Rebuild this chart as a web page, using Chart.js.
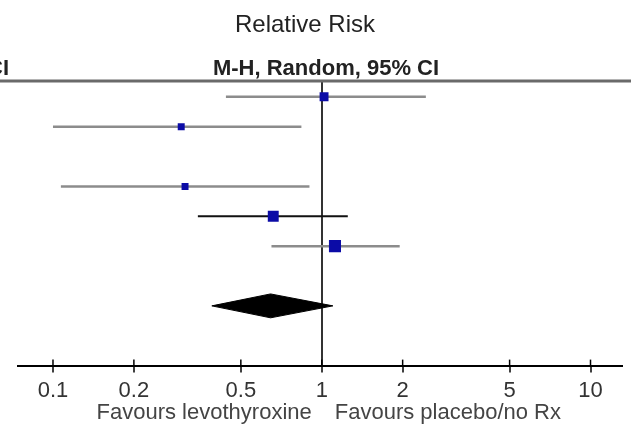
<!DOCTYPE html>
<html lang="en">
<head>
<meta charset="UTF-8">
<title>Relative Risk - forest plot</title>
<style>
  html, body { margin: 0; padding: 0; background: #fff; }
  #wrap { width: 631px; height: 424px; position: relative; }
</style>
<script src="https://cdn.jsdelivr.net/npm/chart.js"></script>
</head>
<body>
<div id="wrap"><canvas id="forest"></canvas></div>
<script>
// rows of the plot, top to bottom ('' = blank row); the study names are cropped off in the source
const rowLabels = ['Study 1', 'Study 2', '', 'Study 3', 'Study 4', 'Study 5', '', 'Total (95% CI)'];

// per-study relative risk with 95% CI, and weight (%)
const studyRR    = [1.02, 0.30, 0.31, 0.66, 1.12];
const studyLower = [0.44, 0.10, 0.107, 0.346, 0.65];
const studyUpper = [2.44, 0.84, 0.90, 1.25, 1.95];
const studyWeight = [18, 11, 11, 27, 33];

// pooled estimate: [RR, lower, upper]
const pooled = [0.645, 0.39, 1.10];

const xTicks = [0.1, 0.2, 0.5, 1, 2, 5, 10];

const FONT = '"Liberation Sans", Arial, sans-serif';

// row index on the y scale for each study / the total
const studyRows = rowLabels.map((l, i) => i).filter(i => rowLabels[i] && i !== rowLabels.length - 1);
const totalRow = rowLabels.length - 1;

// CI whiskers, one small line dataset each
const ciSets = studyRR.map((rr, i) => ({
    data: [{ x: studyLower[i], y: studyRows[i] }, { x: studyUpper[i], y: studyRows[i] }],
    borderColor: i === 3 ? '#111' : '#8c8c8c',
    borderWidth: i === 3 ? 2 : 2.5,
    pointRadius: 0,
    order: 3
}));

const boxSet = {
    data: studyRR.map((rr, i) => ({ x: rr, y: studyRows[i] })),
    showLine: false,
    pointStyle: 'rect',
    // box side ~ sqrt(weight); rect radius r gives a side of r*sqrt(2)
    pointRadius: studyWeight.map(w => Math.sqrt(w) * 2.1 / Math.SQRT2),
    backgroundColor: '#0b0ba6',
    borderWidth: 0,
    order: 0
};

const halfH = 0.4;
const diamondSet = {
    data: [
        { x: pooled[1], y: totalRow },
        { x: pooled[0], y: totalRow - halfH },
        { x: pooled[2], y: totalRow },
        { x: pooled[0], y: totalRow + halfH },
        { x: pooled[1], y: totalRow }
    ],
    fill: 'shape',
    backgroundColor: '#000',
    borderColor: '#000',
    borderWidth: 1,
    pointRadius: 0,
    order: 1
};

// header / footer texts and the little tick stubs above the axis
const decorPlugin = {
    id: 'decor',
    afterDraw(chart) {
        const ctx = chart.ctx;
        const area = chart.chartArea;
        const xs = chart.scales.x;
        const one = xs.getPixelForValue(1);
        ctx.save();

        // header rule
        ctx.strokeStyle = '#6a6a6a';
        ctx.lineWidth = 3;
        ctx.beginPath();
        ctx.moveTo(0, area.top);
        ctx.lineTo(chart.width, area.top);
        ctx.stroke();

        ctx.fillStyle = '#222';
        ctx.textBaseline = 'alphabetic';
        ctx.font = '24px ' + FONT;
        ctx.textAlign = 'center';
        ctx.fillText('Relative Risk', 305, 32);

        ctx.font = 'bold 22px ' + FONT;
        ctx.fillText('M-H, Random, 95% CI', 326, 75);
        ctx.textAlign = 'right';
        ctx.fillText('95% CI', 9, 75);

        // tick stubs above the axis line
        ctx.strokeStyle = '#000';
        ctx.lineWidth = 1.5;
        xTicks.forEach(v => {
            const px = xs.getPixelForValue(v);
            ctx.beginPath();
            ctx.moveTo(px, area.bottom - 6);
            ctx.lineTo(px, area.bottom);
            ctx.stroke();
        });

        ctx.fillStyle = '#444';
        ctx.font = '22px ' + FONT;
        ctx.textAlign = 'right';
        ctx.fillText('Favours levothyroxine', one - 10, 419);
        ctx.textAlign = 'left';
        ctx.fillText('Favours placebo/no Rx', one + 13, 419);
        ctx.restore();
    }
};

new Chart(document.getElementById('forest'), {
    type: 'line',
    data: { datasets: [...ciSets, boxSet, diamondSet] },
    options: {
        responsive: true,
        maintainAspectRatio: false,
        animation: false,
        layout: { padding: { top: 81, left: 18, right: 8, bottom: 15 } },
        plugins: { legend: { display: false }, tooltip: { enabled: false }, title: { display: false } },
        elements: { line: { tension: 0 } },
        scales: {
            x: {
                type: 'logarithmic',
                min: 0.0741,
                max: 13.15,
                bounds: 'data',
                afterBuildTicks: s => { s.ticks = xTicks.map(v => ({ value: v })); },
                ticks: {
                    autoSkip: false,
                    maxRotation: 0,
                    padding: 5,
                    color: '#333',
                    font: { family: FONT, size: 22 },
                    callback: v => String(v)
                },
                grid: {
                    drawOnChartArea: true,
                    color: c => (c.tick && c.tick.value === 1) ? '#333' : 'rgba(0,0,0,0)',
                    lineWidth: 2,
                    tickColor: '#000',
                    tickWidth: 1.5,
                    tickLength: 7
                },
                border: { display: true, color: '#000', width: 2 }
            },
            y: {
                type: 'linear',
                reverse: true,
                min: -0.53,
                max: 9.0,
                display: false
            }
        }
    },
    plugins: [decorPlugin]
});
</script>
</body>
</html>
